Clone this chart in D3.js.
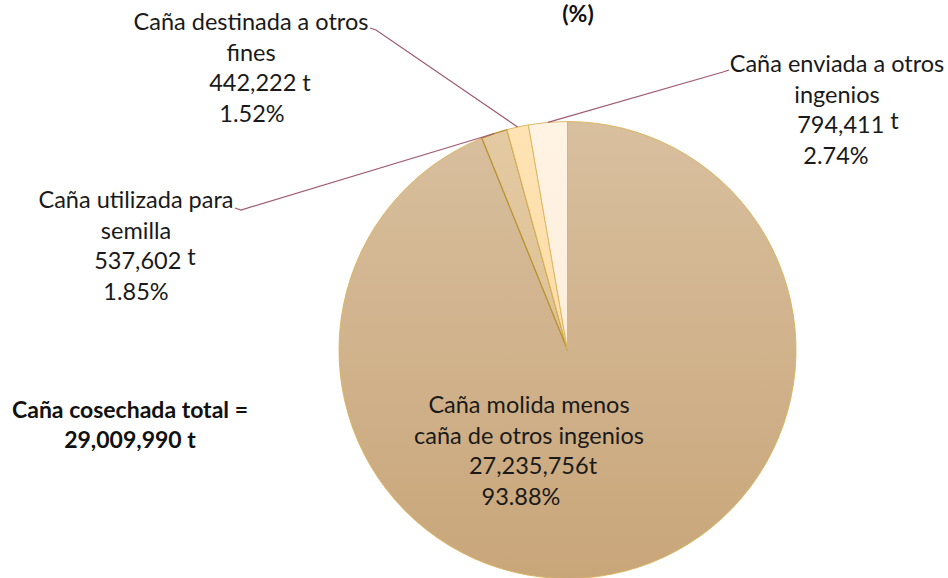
<!DOCTYPE html>
<html>
<head>
<meta charset="utf-8">
<script src="https://cdn.jsdelivr.net/npm/d3@7"></script>
<style>
  html, body { margin: 0; padding: 0; background: #fff; }
  svg { display: block; font-family: Lato, "Open Sans", sans-serif; }
  .lbl { font-size: 23.5px; fill: #1a1a1a; }
  .bold { font-size: 23px; font-weight: bold; fill: #111; }
</style>
</head>
<body>
<svg id="chart" width="948" height="578"></svg>
<script>
// data
const categories = [
  'Caña molida menos caña de otros ingenios',
  'Caña utilizada para semilla',
  'Caña destinada a otros fines',
  'Caña enviada a otros ingenios'
];
const tonnes = [27235756, 537602, 442222, 794411];
const percents = ['93.88%', '1.85%', '1.52%', '2.74%'];
const totalText = ['Caña cosechada total =', '29,009,990 t'];
const titleText = '(%)';

// label line breaks, same as the original wrap
const labelLines = [
  ['Caña molida menos', 'caña de otros ingenios'],
  ['Caña utilizada para', 'semilla'],
  ['Caña destinada a otros', 'fines'],
  ['Caña enviada a otros', 'ingenios']
];

const W = 948, H = 578;
const cx = 567.5, cy = 350, R = 228.5;
const svg = d3.select('#chart');
const fmt = d3.format(',');

const defs = svg.append('defs');
const grads = [
  ['#d8bf9e', '#c9a67a'],
  ['#e4caa2', '#d8b88a'],
  ['#fee3b4', '#fdd79a'],
  ['#fff3e4', '#fde9d2']
];
grads.forEach((g, i) => {
  const lg = defs.append('linearGradient')
    .attr('id', 'g' + i)
    .attr('gradientUnits', 'userSpaceOnUse')
    .attr('x1', 0).attr('y1', -R).attr('x2', 0).attr('y2', R);
  lg.append('stop').attr('offset', '0%').attr('stop-color', g[0]);
  lg.append('stop').attr('offset', '100%').attr('stop-color', g[1]);
});

const pie = d3.pie().sort(null).value(d => d);
const arcs = pie(tonnes);
const arc = d3.arc().innerRadius(0).outerRadius(R);

const gPie = svg.append('g').attr('transform', `translate(${cx},${cy})`);
gPie.selectAll('path')
  .data(arcs)
  .join('path')
  .attr('d', arc)
  .attr('fill', (d, i) => `url(#g${i})`)
  .attr('stroke', (d, i) => i == 1 ? '#b8912e' : '#d9b35a')
  .attr('stroke-width', (d, i) => i == 1 ? 1.3 : 0.9)
  .attr('stroke-linejoin', 'round');

// where the leader lines touch the pie
function edgePoint(d) {
  const a = (d.startAngle + d.endAngle) / 2;
  return [cx + R * Math.sin(a), cy - R * Math.cos(a)];
}

// label blocks: x centre, first baseline, per line offsets, leader start
const lineH = 30.5;
const blocks = [
  {x: 529, y: 413, dx: [0, 0, 4, -8], raise: 0, gap: ''},
  {x: 136, y: 208, dx: [0, 0, 9, 0], lead: [235, 208], raise: -4, gap: ' '},
  {x: 251, y: 30, dx: [0, 0, 9, 1], lead: [370, 28], raise: 0, gap: ' '},
  {x: 837, y: 72, dx: [0, 0, 11, -1], lead: [729, 70], raise: -4, gap: ' '}
];

// leader lines
arcs.forEach((d, i) => {
  const b = blocks[i];
  if (!b.lead) return;
  const p = edgePoint(d);
  const side = b.lead[0] < p[0] ? 1 : -1;
  svg.append('path')
    .attr('d', d3.line()([b.lead, [b.lead[0] + side * 6, b.lead[1] + 2], p]))
    .attr('fill', 'none')
    .attr('stroke', '#a05a72')
    .attr('stroke-width', 1.2);
});

arcs.forEach((d, i) => {
  const b = blocks[i];
  const t = svg.append('text').attr('class', 'lbl').attr('text-anchor', 'middle');
  labelLines[i].forEach((s, k) => {
    t.append('tspan').attr('x', b.x + b.dx[k]).attr('y', b.y + k * lineH).text(s);
  });
  const v = t.append('tspan').attr('x', b.x + b.dx[2]).attr('y', b.y + 2 * lineH);
  v.append('tspan').text(fmt(tonnes[i]) + b.gap);
  v.append('tspan').attr('dy', b.raise).text('t');
  t.append('tspan').attr('x', b.x + b.dx[3]).attr('y', b.y + 3 * lineH).text(percents[i]);
});

// total
const tt = svg.append('text').attr('class', 'bold').attr('text-anchor', 'middle');
totalText.forEach((s, k) => {
  tt.append('tspan').attr('x', 130).attr('y', 418 + k * 30).text(s);
});

// title, cut off at the top
svg.append('text')
  .attr('class', 'bold')
  .attr('x', 578).attr('y', 22)
  .attr('font-size', 27)
  .attr('text-anchor', 'middle')
  .text(titleText);
</script>
</body>
</html>
